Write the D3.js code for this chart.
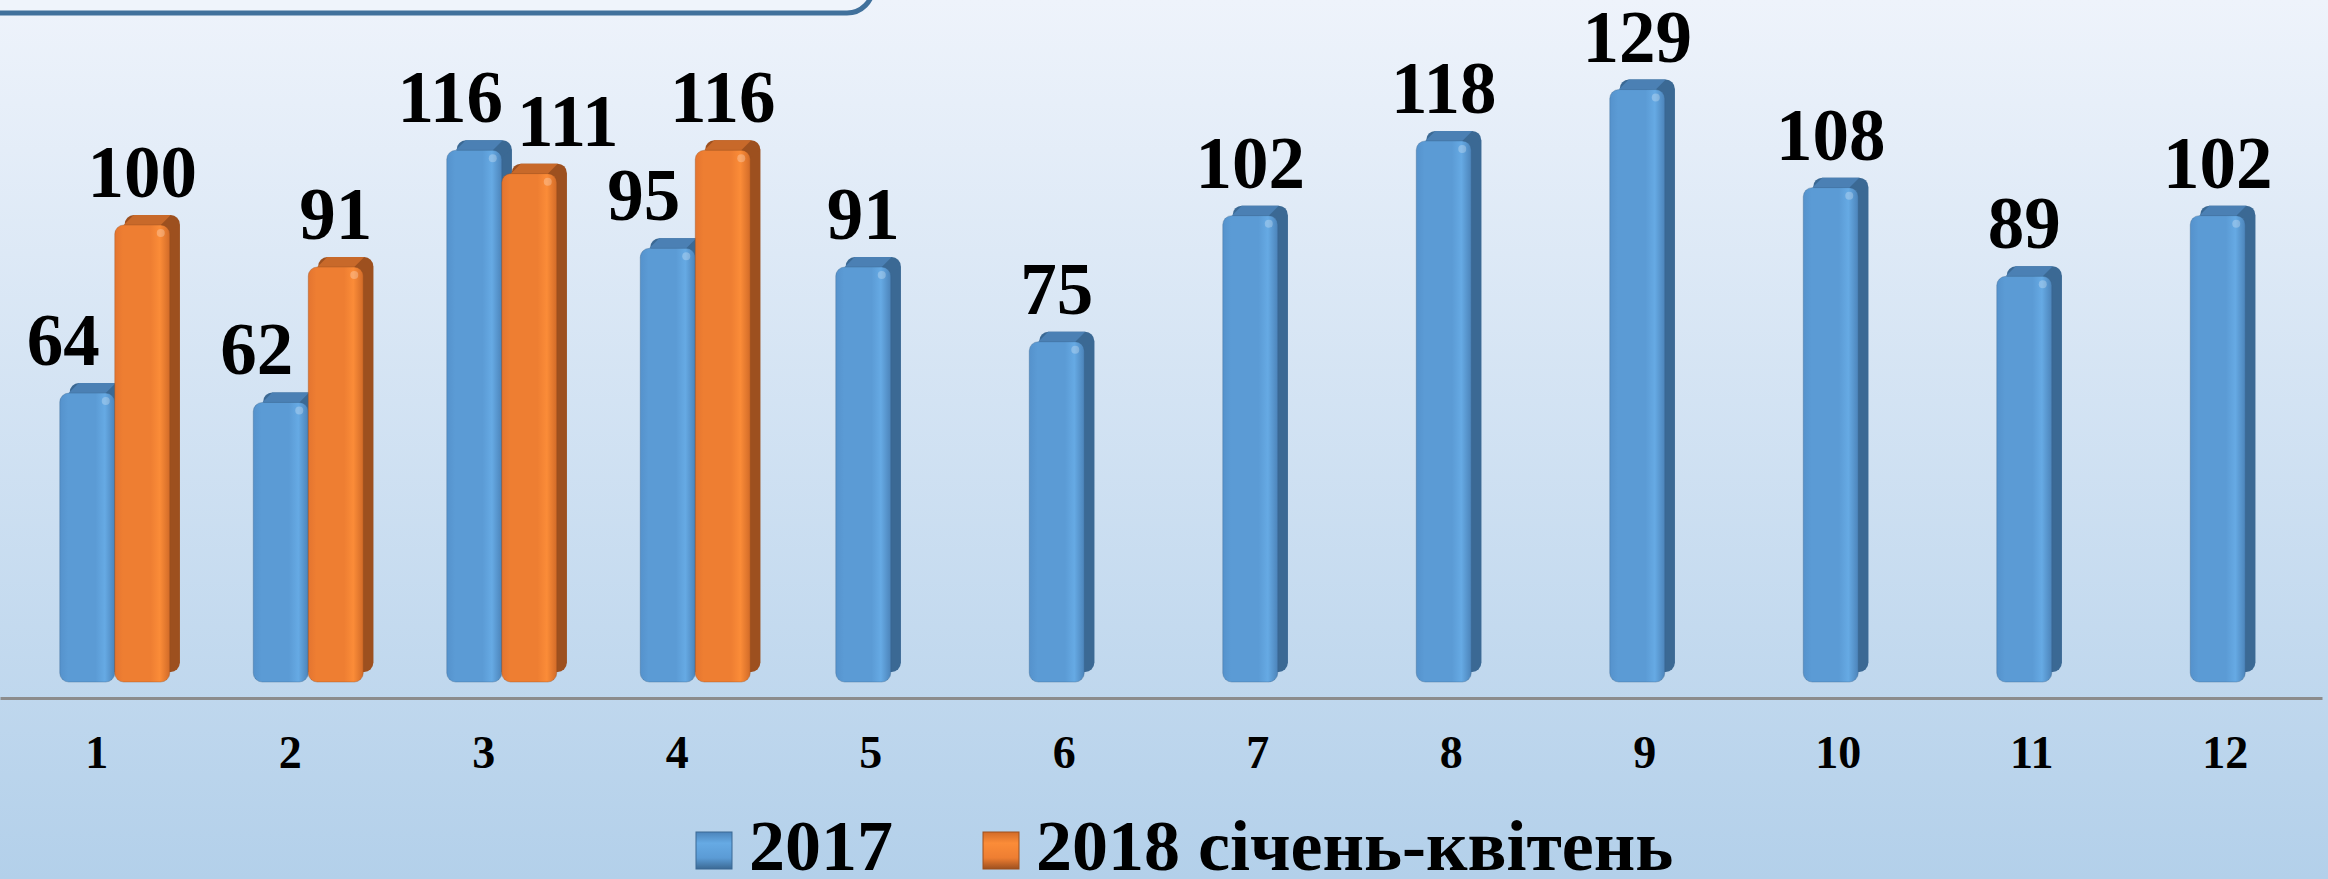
<!DOCTYPE html>
<html>
<head>
<meta charset="utf-8">
<script src="https://cdn.jsdelivr.net/npm/d3@7"></script>
<style>
  html, body { margin: 0; padding: 0; overflow: hidden; }
  svg { display: block; }
</style>
</head>
<body>
<div class="chart"></div>
<script>
;(function init() {
  const width = 2328
  const height = 879

  // data
  const months = ['1', '2', '3', '4', '5', '6', '7', '8', '9', '10', '11', '12']
  const values2017 = [64, 62, 116, 95, 91, 75, 102, 118, 129, 108, 89, 102]
  const values2018 = [100, 91, 111, 116]
  const seriesNames = ['2017', '2018 січень-квітень']

  const barW = 55
  const depth = 10
  const baseY = 682
  const axisY = 698

  const xScale = d3.scaleBand().domain(months).range([0, 2322])
  const yScale = d3.scaleLinear().domain([0, 140]).range([baseY, baseY - 140 * 4.67])

  const svg = d3
    .select('.chart')
    .append('svg')
    .attr('width', width)
    .attr('height', height)

  const defs = svg.append('defs')

  const bg = defs.append('linearGradient').attr('id', 'bg').attr('x1', 0).attr('x2', 0).attr('y1', 0).attr('y2', 1)
  bg.append('stop').attr('offset', '0%').attr('stop-color', '#eef3fb')
  bg.append('stop').attr('offset', '100%').attr('stop-color', '#b3d0ea')

  const palette = {
    blue: { stops: ['#5592cc', '#5b9bd5', '#66aae4', '#4c84ba'], side: '#3b6994', top: '#4b80b4' },
    orange: { stops: ['#e47530', '#ee7e32', '#fb8c38', '#d26b28'], side: '#9d501f', top: '#c8692a' }
  }

  for (const key of Object.keys(palette)) {
    const g = defs.append('linearGradient').attr('id', 'front-' + key)
    const s = palette[key].stops
    g.append('stop').attr('offset', '0%').attr('stop-color', s[0])
    g.append('stop').attr('offset', '15%').attr('stop-color', s[1])
    g.append('stop').attr('offset', '65%').attr('stop-color', s[1])
    g.append('stop').attr('offset', '82%').attr('stop-color', s[2])
    g.append('stop').attr('offset', '100%').attr('stop-color', s[3])

    const m = defs.append('linearGradient').attr('id', 'marker-' + key).attr('x1', 0).attr('x2', 0).attr('y1', 0).attr('y2', 1)
    m.append('stop').attr('offset', '0%').attr('stop-color', s[3])
    m.append('stop').attr('offset', '30%').attr('stop-color', s[2])
    m.append('stop').attr('offset', '70%').attr('stop-color', s[1])
    m.append('stop').attr('offset', '100%').attr('stop-color', palette[key].side)
  }

  svg.append('rect').attr('width', width).attr('height', height).attr('fill', 'url(#bg)')

  // title box at the top (its text is cut off)
  svg
    .append('rect')
    .attr('x', -30)
    .attr('y', -50)
    .attr('width', 903)
    .attr('height', 63)
    .attr('rx', 26)
    .attr('fill', '#eff4fb')
    .attr('stroke', '#41719c')
    .attr('stroke-width', 5)

  // axis
  const xAxis = d3.axisBottom(xScale).tickSize(0).tickSizeOuter(0).tickPadding(37)
  const axisG = svg
    .append('g')
    .attr('transform', 'translate(0,' + axisY + ')')
    .call(xAxis)
  axisG.select('.domain').attr('stroke', '#8c8c8c').attr('stroke-width', 3)
  axisG
    .selectAll('text')
    .attr('font-family', '"Liberation Serif", "Times New Roman", serif')
    .attr('font-weight', 'bold')
    .attr('font-size', 46)
    .attr('fill', '#000')

  // bar records
  const bars = []
  months.forEach((m, i) => {
    const c = xScale(m) + xScale.bandwidth() / 2
    const paired = values2018[i] !== undefined
    if (paired) {
      bars.push({ month: m, i, value: values2017[i], key: 'blue', x: c - 37, paired, other: values2018[i] })
      bars.push({ month: m, i, value: values2018[i], key: 'orange', x: c + 18, paired, other: values2017[i] })
    } else {
      bars.push({ month: m, i, value: values2017[i], key: 'blue', x: c - 35, paired })
    }
  })

  const r = 9
  const barG = svg.append('g')
  for (const b of bars) {
    const top = yScale(b.value)
    const g = barG.append('g')
    // back / side
    g.append('rect')
      .attr('x', b.x + depth)
      .attr('y', top)
      .attr('width', barW)
      .attr('height', baseY - depth - top)
      .attr('rx', r)
      .attr('fill', palette[b.key].side)
    // top face
    g.append('path')
      .attr('d', `M${b.x + r},${top + depth} L${b.x + depth + r},${top} L${b.x + barW + depth - r},${top} L${b.x + barW - r},${top + depth} Z`)
      .attr('fill', palette[b.key].top)
    // side face
    g.append('path')
      .attr('d', `M${b.x + barW - 2},${top + depth + r} L${b.x + barW + depth},${top + r} L${b.x + barW + depth},${baseY - depth - r} L${b.x + barW - 2},${baseY - r} Z`)
      .attr('fill', palette[b.key].side)
    // front face
    g.append('rect')
      .attr('x', b.x)
      .attr('y', top + depth)
      .attr('width', barW)
      .attr('height', baseY - top - depth)
      .attr('rx', r)
      .attr('fill', `url(#front-${b.key})`)
      .attr('stroke', d3.color(palette[b.key].side).darker(0.2))
      .attr('stroke-opacity', 0.35)
      .attr('stroke-width', 1)
    // highlight dot at top right
    g.append('circle')
      .attr('cx', b.x + barW - 9)
      .attr('cy', top + depth + 8)
      .attr('r', 4)
      .attr('fill', '#ffffff')
      .attr('opacity', 0.25)
  }

  // value labels
  const capH = 52
  const labels = bars.map((b) => {
    let cx = b.x + barW / 2
    let baseline = yScale(b.value) - 18
    if (b.paired && b.key == 'blue') cx -= 24
    if (b.paired && b.key == 'orange' && b.other > b.value) cx = b.x + depth + 8 + 48
    return { ...b, cx, baseline }
  })
  // push overlapping labels apart vertically
  for (let k = 0; k < labels.length - 1; k++) {
    const a = labels[k]
    const b = labels[k + 1]
    if (a.month != b.month) continue
    if (Math.abs(a.cx - b.cx) < 100) {
      if (a.baseline < b.baseline && a.baseline > b.baseline - capH - 4) a.baseline = b.baseline - capH - 14
      if (b.baseline < a.baseline && b.baseline > a.baseline - capH - 4) b.baseline = a.baseline - capH - 14
    }
  }

  svg
    .append('g')
    .selectAll('text')
    .data(labels)
    .enter()
    .append('text')
    .attr('x', (d) => d.cx)
    .attr('y', (d) => d.baseline)
    .attr('text-anchor', 'middle')
    .attr('font-family', '"Liberation Serif", "Times New Roman", serif')
    .attr('font-weight', 'bold')
    .attr('font-size', 73)
    .attr('fill', '#000')
    .text((d) => d.value)

  // legend
  const legendX = [696, 983]
  const legend = svg.append('g')
  seriesNames.forEach((name, i) => {
    const key = i == 0 ? 'blue' : 'orange'
    legend
      .append('rect')
      .attr('x', legendX[i])
      .attr('y', 832)
      .attr('width', 36)
      .attr('height', 37)
      .attr('fill', `url(#marker-${key})`)
      .attr('stroke', palette[key].side)
      .attr('stroke-width', 1)
    legend
      .append('text')
      .attr('x', legendX[i] + 53)
      .attr('y', 870)
      .attr('font-family', '"Liberation Serif", "Times New Roman", serif')
      .attr('font-weight', 'bold')
      .attr('font-size', 72)
      .attr('fill', '#000')
      .text(name)
  })
})()
</script>
</body>
</html>
